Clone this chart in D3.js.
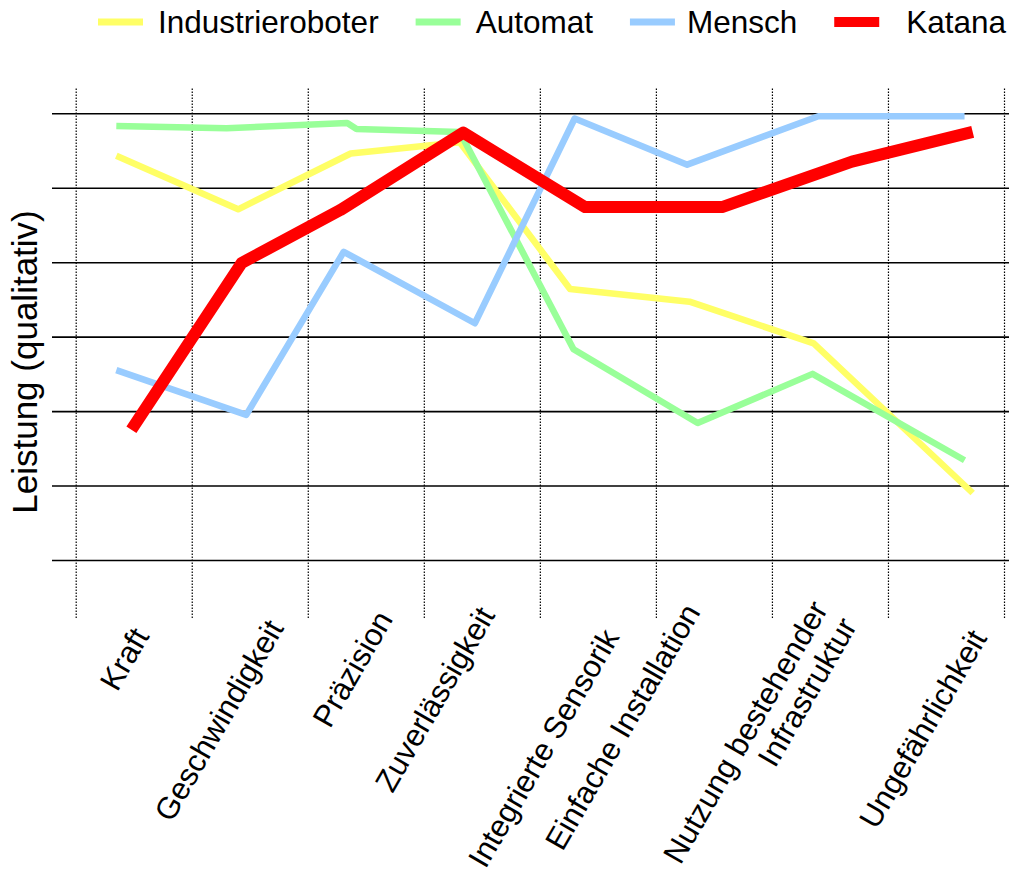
<!DOCTYPE html>
<html>
<head>
<meta charset="utf-8">
<script src="https://cdn.jsdelivr.net/npm/d3@7/dist/d3.min.js"></script>
<style>
  html, body { margin: 0; padding: 0; background: #fff; }
  svg { display: block; font-family: 'Liberation Sans', Arial, sans-serif; }
  .grid line { stroke: #000; stroke-width: 1.6; }
  .vgrid line { stroke: #000; stroke-width: 1.2; stroke-dasharray: 1.5,1.5; }
  .grid .domain, .vgrid .domain { display: none; }
  .series { fill: none; stroke-linejoin: round; stroke-linecap: butt; }
</style>
</head>
<body>
<svg id="chart" width="1009" height="876"></svg>
<script>

// categories on the x axis
var categories = [ 'Kraft', 'Geschwindigkeit', 'Präzision', 'Zuverlässigkeit',
	'Integrierte Sensorik', 'Einfache Installation', 'Nutzung bestehender\nInfrastruktur', 'Ungefährlichkeit' ];

// series (x in grid units, y in qualitative levels 0..6)
var industrieX = [ 0.35, 1.40, 2.37, 3.31, 4.26, 5.29, 6.36, 7.73 ];
var industrieY = [ 5.43, 4.71, 5.46, 5.61, 3.64, 3.47, 2.91, 0.90 ];

var automatX = [ 0.35, 1.30, 2.34, 2.42, 3.31, 4.29, 5.36, 6.35, 7.66 ];
var automatY = [ 5.83, 5.80, 5.87, 5.79, 5.75, 2.83, 1.84, 2.50, 1.34 ];

var menschX = [ 0.35, 1.47, 2.31, 3.44, 4.30, 5.27, 6.40, 7.66 ];
var menschY = [ 2.55, 1.95, 4.14, 3.18, 5.93, 5.31, 5.96, 5.96 ];

var katanaX = [ 0.48, 1.43, 2.28, 3.34, 4.39, 5.57, 6.69, 7.73 ];
var katanaY = [ 1.75, 3.99, 4.70, 5.74, 4.74, 4.74, 5.35, 5.75 ];

var seriesNames = [ 'Industrieroboter', 'Automat', 'Mensch', 'Katana' ];
var levels = [ 0, 1, 2, 3, 4, 5, 6 ];

// layout
var svg = d3.select( '#chart' );
var colors = [ '#ffff66', '#99ff99', '#99ccff', '#ff0000' ];
var widths = [ 6.5, 6.5, 6.5, 12 ];
var plotTop = 88, plotBottom = 618, gridLeft = 52, gridRight = 1009;

var x = d3.scaleLinear().domain( [ 0, 8 ] ).range( [ 75.7, 1004 ] );
var y = d3.scaleLinear().domain( [ 0, 6 ] ).range( [ 560, 113.3 ] );

// label anchors along the axis (grid units) and drop below the base line (px)
var labelAt = [ 0.64, 1.80, 2.74, 3.62, 4.69, 5.39, 6.49, 7.86 ];
var labelDrop = [ 76, 68, 59, 55, 77, 52, 49, 78 ];

var vAxis = d3.axisBottom( x )
	.tickValues( d3.range( 0, 9 ) )
	.tickSize( -( plotBottom - plotTop ) )
	.tickFormat( '' );

svg.append( 'g' )
	.classed( 'vgrid', true )
	.attr( 'transform', 'translate(0,' + plotBottom + ')' )
	.call( vAxis );

var hAxis = d3.axisLeft( y )
	.tickValues( levels )
	.tickSize( -( gridRight - gridLeft ) )
	.tickFormat( '' );

svg.append( 'g' )
	.classed( 'grid', true )
	.attr( 'transform', 'translate(' + gridLeft + ',0)' )
	.call( hAxis );

var line = d3.line()
	.x( function ( d ) { return x( d[0] ); } )
	.y( function ( d ) { return y( d[1] ); } );

var allX = [ industrieX, automatX, menschX, katanaX ];
var allY = [ industrieY, automatY, menschY, katanaY ];

allX.forEach( function ( xs, i ) {
	var pts = xs.map( function ( v, j ) { return [ v, allY[i][j] ]; } );
	svg.append( 'path' )
		.datum( pts )
		.classed( 'series', true )
		.attr( 'd', line )
		.attr( 'stroke', colors[i] )
		.attr( 'stroke-width', widths[i] );
} );

// category labels, rotated
var angle = -60;
categories.forEach( function ( c, i ) {
	var t = svg.append( 'text' )
		.attr( 'transform', 'translate(' + x( labelAt[i] ) + ',' + ( y( 0 ) + labelDrop[i] ) + ') rotate(' + angle + ')' )
		.attr( 'text-anchor', 'end' )
		.style( 'font-size', '31px' );
	c.split( '\n' ).forEach( function ( part, k ) {
		t.append( 'tspan' )
			.attr( 'x', 0 )
			.attr( 'dy', k === 0 ? 0 : '1.08em' )
			.text( part );
	} );
} );

// y axis title
svg.append( 'text' )
	.attr( 'transform', 'translate(37,362) rotate(-90)' )
	.attr( 'text-anchor', 'middle' )
	.style( 'font-size', '35px' )
	.text( 'Leistung (qualitativ)' );

// legend
var lx = 98;
seriesNames.forEach( function ( name, i ) {
	svg.append( 'line' )
		.attr( 'x1', lx ).attr( 'x2', lx + 45 )
		.attr( 'y1', 22 ).attr( 'y2', 22 )
		.attr( 'stroke', colors[i] )
		.attr( 'stroke-width', i === 3 ? 10 : 7 );
	var gap = i === 3 ? 27 : ( i === 2 ? 12 : 15 );
	var txt = svg.append( 'text' )
		.attr( 'x', lx + 45 + gap )
		.attr( 'y', 32.5 )
		.style( 'font-size', '31.5px' )
		.text( name );
	lx = lx + 45 + gap + txt.node().getComputedTextLength() + 37;
} );

</script>
</body>
</html>
